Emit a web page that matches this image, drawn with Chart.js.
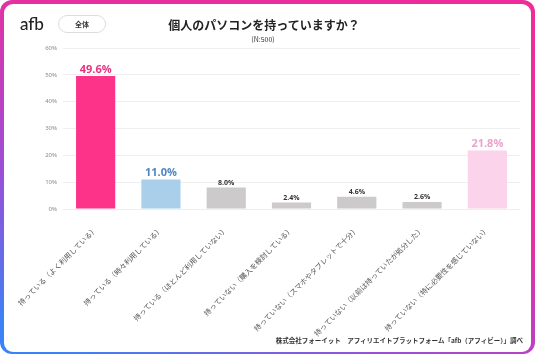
<!DOCTYPE html>
<html><head><meta charset="utf-8">
<script src="https://cdn.jsdelivr.net/npm/chart.js@4.4.1/dist/chart.umd.min.js"></script>
<style>
html,body{margin:0;padding:0;background:#fff;}
body{width:536px;height:356px;position:relative;overflow:hidden;font-family:"Noto Sans CJK JP","Noto Sans",sans-serif;}
#frame{position:absolute;left:0;top:0;width:535px;height:354px;border-radius:12px;background:linear-gradient(205deg,#ef2b9a 0%,#e630a2 40%,#9a4fd8 70%,#3b82f6 95%);}
#inner{position:absolute;left:4px;top:4px;right:5px;bottom:4px;border-radius:9px;background:#fff;}
#logo{position:absolute;left:20px;top:13px;font-family:"Lato","Noto Sans",sans-serif;font-size:17px;font-weight:500;color:#222;line-height:22px;}
#logo .b{background:linear-gradient(180deg,#a04fd6,#3b82f6);-webkit-background-clip:text;background-clip:text;color:transparent;}
#pill{position:absolute;left:58px;top:15px;width:46px;height:16px;border:1px solid #ddd;border-radius:9px;font-size:7px;line-height:16px;text-align:center;color:#333;font-weight:bold;}
#title{position:absolute;left:0;width:528px;top:16px;text-align:center;font-size:12px;font-weight:bold;color:#222;line-height:18px;}
#n{position:absolute;left:0;width:526px;top:34px;text-align:center;font-size:7px;color:#333;line-height:10px;}
#footer{position:absolute;right:13px;top:335px;font-size:6.5px;font-weight:bold;color:#333;line-height:10px;}
canvas{position:absolute;left:0;top:0;}
</style></head>
<body>
<div id="frame"></div><div id="inner"></div>
<div style="position:absolute;left:0;top:0;width:536px;height:356px;"><canvas id="c" width="536" height="356"></canvas></div>
<div id="logo">af<span class="b">b</span></div>
<div id="pill">全体</div>
<div id="title">個人のパソコンを持っていますか？</div>
<div id="n">(N:500)</div>
<div id="footer">株式会社フォーイット　アフィリエイトプラットフォーム「afb（アフィビー）」調べ</div>
<script>
const categories = [
  "持っている（よく利用している）",
  "持っている（時々利用している）",
  "持っている（ほとんど利用していない）",
  "持っていない（購入を検討している）",
  "持っていない（スマホやタブレットで十分）",
  "持っていない（以前は持っていたが処分した）",
  "持っていない（特に必要性を感じていない）"
];
const values = [49.6, 11.0, 8.0, 2.4, 4.6, 2.6, 21.8];
const yTicks = [0, 10, 20, 30, 40, 50, 60];

const barColors = ["#fd3389","#a9cfeb","#cdcacb","#cdcacb","#cdcacb","#cdcacb","#fbd3ea"];
const labelColors = ["#e8327f","#4f86c0","#333","#333","#333","#333","#eaa3cc"];
const labelSizes = [11,11,7,7,7,7,11];

const valueLabels = {
  id:'valueLabels',
  afterDatasetsDraw(chart){
    const ctx = chart.ctx;
    const meta = chart.getDatasetMeta(0);
    meta.data.forEach((bar,i)=>{
      ctx.save();
      ctx.font = "bold " + labelSizes[i] + "px 'Open Sans','Noto Sans',sans-serif";
      ctx.fillStyle = labelColors[i];
      ctx.textAlign = 'center';
      ctx.textBaseline = 'bottom';
      ctx.fillText(values[i].toFixed(1) + '%', bar.x, bar.y - (labelSizes[i] > 8 ? 1 : 1.5));
      ctx.restore();
    });
  }
};

new Chart(document.getElementById('c'), {
  type:'bar',
  data:{labels:categories, datasets:[{data:values, backgroundColor:barColors, barPercentage:0.6, categoryPercentage:1.0}]},
  options:{
    responsive:false, animation:false,
    layout:{padding:{left:38,right:16,top:48,bottom:0}},
    plugins:{legend:{display:false},tooltip:{enabled:false},title:{display:false}},
    scales:{
      y:{
        min:0,max:60,
        afterFit(s){s.width=25;},
        afterBuildTicks(s){s.ticks = yTicks.map(v=>({value:v}));},
        ticks:{callback:v=>v+'%',font:{size:6,family:"'Noto Sans','Open Sans',sans-serif"},color:'#888',padding:6},
        grid:{color:'#eeeeee',drawTicks:false,lineWidth:1},
        border:{display:false}
      },
      x:{
        afterFit(s){s.height=147;},
        ticks:{maxRotation:45,minRotation:45,autoSkip:false,font:{size:7.2,family:"'Noto Sans CJK JP',sans-serif"},color:'#555',padding:8},
        grid:{display:false},
        border:{display:false}
      }
    }
  },
  plugins:[valueLabels]
});
</script>
</body></html>
